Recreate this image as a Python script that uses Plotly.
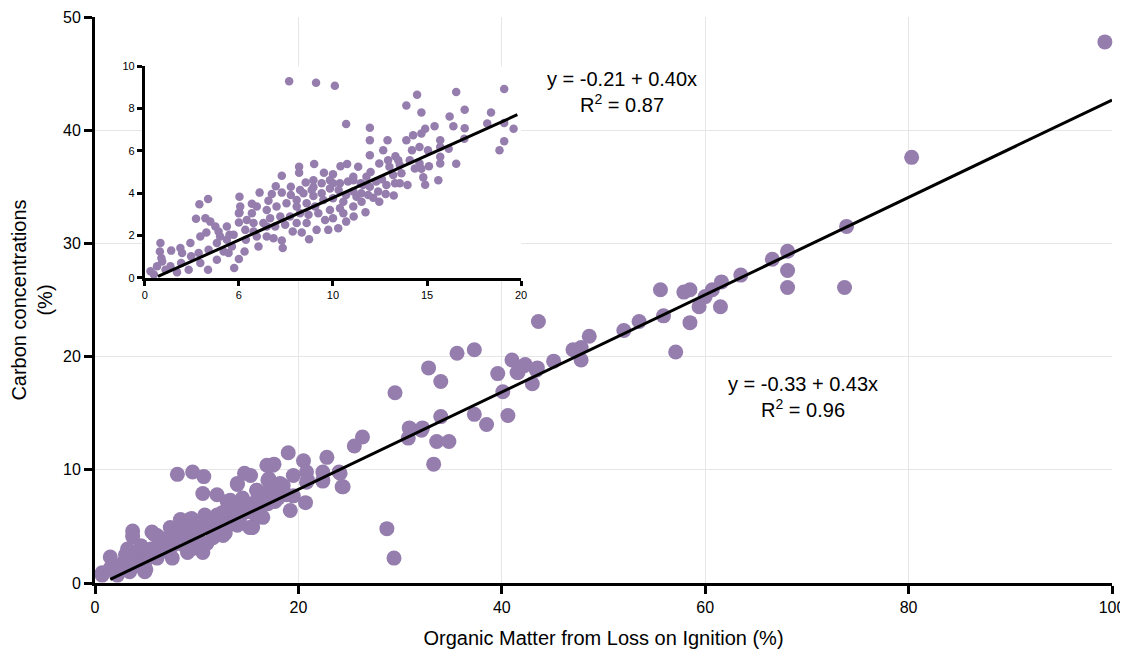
import plotly.graph_objects as go

# ---------------- main scatter data (Organic matter LOI %, Carbon %) ----------------
main_x = [99.3, 80.3, 73.9, 73.7, 68.1, 68.1, 68.1, 66.6, 63.5, 61.6, 61.5, 60.7, 60.0, 59.4,
          58.5, 57.9, 58.5, 57.1, 55.9, 55.6, 53.5, 52.0, 48.6, 47.8, 47.8, 47.0, 45.1, 43.6,
          43.4, 42.2, 41.0, 41.6, 35.6, 37.3, 32.8, 34.0, 29.5, 42.3, 39.6, 41.5, 43.5, 43.0,
          40.1, 37.3, 38.5, 40.6, 34.0, 31.0, 32.1, 30.8, 33.6, 34.8, 33.3, 28.7, 29.4, 26.3,
          25.5, 30.9, 32.2, 19.0, 20.5, 22.8, 17.6, 19.5, 20.8, 22.4, 24.0, 20.8, 22.4, 24.3,
          17.1, 18.5, 19.5, 20.7, 19.2, 17.7, 16.5, 15.3, 15.9, 15.5, 8.1, 9.6, 10.7, 10.6,
          14.0, 14.7, 16.9, 12.0, 13.0, 3.7, 3.7, 5.6, 1.5, 0.7, 2.2, 3.4, 4.9, 2.8, 4.4, 6.1,
          7.6, 9.1, 10.6, 6.7, 7.4, 8.4, 9.3, 10.8, 12.1, 11.6, 12.6, 14.0, 15.4, 15.9, 16.4,
          6.1, 8.4, 9.6, 10.3, 9.5, 14.0, 15.9, 17.0, 17.5, 20.9, 22.4, 24.1, 24.4, 15.2, 13.3,
          2.0, 0.7, 3.0, 4.5, 5.2, 6.0, 6.8, 7.5, 8.2, 8.8, 9.8, 10.2, 11.2, 11.8, 12.5, 13.0,
          13.8, 14.5, 15.0, 16.0, 16.8, 17.5, 18.2, 18.8, 14.2, 12.8, 9.0, 6.3, 4.0, 2.8, 3.2,
          5.8, 1.5, 2.5, 3.5, 4.0, 5.0, 5.5, 6.5, 7.0, 8.0, 9.0, 10.0, 11.0, 12.0, 13.0, 13.5,
          14.0, 15.0, 16.0, 17.0, 17.5, 18.0, 11.0, 12.0, 13.0, 9.5, 8.5, 7.5, 5.0]
main_y = [47.8, 37.6, 31.5, 26.1, 29.3, 27.6, 26.1, 28.6, 27.2, 26.6, 24.4, 25.9, 25.3, 24.4,
          25.9, 25.7, 23.0, 20.4, 23.6, 25.9, 23.1, 22.3, 21.8, 20.8, 19.7, 20.6, 19.6, 23.1,
          18.8, 19.2, 19.7, 18.6, 20.3, 20.6, 19.0, 17.8, 16.8, 19.3, 18.5, 18.6, 19.0, 17.6,
          16.9, 14.9, 14.0, 14.8, 14.7, 13.6, 13.5, 12.8, 12.5, 12.5, 10.5, 4.8, 2.2, 12.9,
          12.1, 13.7, 13.7, 11.5, 10.8, 11.1, 10.5, 9.5, 9.8, 9.8, 9.8, 8.9, 9.0, 8.5,
          9.2, 8.6, 7.7, 7.1, 6.4, 7.2, 5.8, 9.5, 8.2, 4.9, 9.6, 9.8, 9.4, 7.9,
          8.8, 9.7, 10.4, 7.8, 7.2, 4.6, 4.1, 4.5, 2.3, 0.7, 0.7, 1.0, 1.0, 1.8, 2.7, 2.2,
          2.2, 2.7, 2.7, 3.1, 4.9, 5.6, 5.6, 6.0, 5.6, 4.0, 4.2, 5.1, 4.9, 5.8, 7.2,
          4.2, 3.8, 4.2, 4.9, 5.7, 8.7, 8.2, 9.1, 10.4, 9.1, 9.1, 9.7, 8.5, 4.9, 7.3,
          0.9, 0.9, 2.5, 3.3, 2.8, 3.0, 3.9, 4.2, 4.6, 3.3, 5.0, 3.8, 5.4, 4.6, 6.2, 5.2,
          6.6, 7.5, 6.3, 6.8, 8.0, 7.6, 8.8, 7.8, 5.6, 4.4, 5.0, 3.6, 2.0, 1.3, 3.0,
          4.3, 1.3, 1.5, 2.0, 1.5, 2.0, 3.0, 3.5, 2.8, 3.5, 4.5, 4.5, 5.0, 6.0, 6.5, 5.5,
          6.0, 7.0, 7.5, 7.0, 8.0, 7.5, 3.5, 4.8, 5.0, 3.0, 4.5, 3.2, 1.2]

# ---------------- inset scatter data (LOI < 20 %) ----------------
inset_x = [7.67, 9.10, 10.1, 19.1, 16.55, 14.47, 13.9, 14.7, 17.0, 18.4, 16.2, 19.1, 19.6, 18.2,
           17.0, 16.4, 15.4, 14.9, 10.7, 11.96, 16.98, 19.1, 18.85, 16.15, 16.55, 15.6, 14.9,
           13.96, 14.8, 15.1, 15.7, 15.7, 14.26, 14.7, 13.9, 14.2, 14.6, 15.05, 15.7, 15.7,
           12.9, 11.96, 12.67, 11.96, 12.93, 13.32, 12.46, 13.55, 14.08, 14.6, 14.7, 14.35,
           13.64, 13.2, 13.55, 13.23, 12.8, 12.46, 12.14, 12.84, 12.6, 12.0, 11.34, 10.75,
           10.4, 10.0, 9.52, 9.0, 8.2, 8.2, 7.28, 6.96, 7.76, 8.55, 8.96, 9.4, 9.84, 10.37,
           11.08, 11.48, 11.96, 11.87, 11.5, 11.08, 10.7, 10.3, 9.84, 9.4, 8.96, 8.43, 7.76,
           7.28, 6.57, 6.1, 5.03, 5.69, 5.03, 2.9, 3.36, 2.72, 3.22, 3.48, 3.27, 3.92, 4.5,
           5.0, 5.0, 5.69, 5.78, 6.3, 6.66, 7.2, 7.72, 8.25, 8.7, 9.22, 9.84, 10.37, 11.08,
           11.52, 9.58, 10.0, 10.55, 10.7, 11.1, 11.73, 9.75, 10.28, 9.13, 8.34, 8.73, 7.86,
           7.28, 7.33, 6.84, 6.48, 6.04, 5.95, 5.37, 5.3, 5.0, 4.75, 4.45, 4.63, 4.36, 3.83,
           3.39, 3.36, 2.95, 2.86, 2.46, 2.33, 1.98, 1.93, 1.71, 1.4, 1.36, 1.1, 0.92, 0.83,
           0.8, 0.65, 0.48, 0.3, 0.88, 3.83, 4.19, 4.72, 5.34, 5.78, 6.48, 6.93, 7.46, 8.07,
           8.6, 5.42, 4.36, 3.75, 2.95, 2.42, 1.89, 4.0, 5.95, 5.07, 6.48, 7.0, 7.53, 8.07,
           8.6, 9.05, 8.07, 9.49, 10.0, 10.55, 8.25, 8.96, 11.08, 10.8, 11.78, 12.3, 13.3,
           13.0, 13.47, 11.25, 12.4, 11.6, 10.0, 8.87, 6.75]
inset_y = [9.29, 9.22, 9.08, 8.93, 8.78, 8.65, 8.15, 7.82, 7.95, 7.82, 7.63, 7.32, 7.05, 7.29,
           7.07, 7.16, 7.16, 7.05, 7.27, 7.1, 6.58, 6.46, 6.03, 6.10, 5.39, 4.62, 4.40,
           4.39, 4.75, 5.28, 5.41, 5.72, 6.74, 6.82, 6.5, 6.03, 6.19, 6.03, 6.19, 6.5,
           6.5, 6.5, 6.03, 5.8, 5.56, 5.75, 5.41, 5.33, 5.56, 5.41, 5.16, 5.17,
           4.94, 4.86, 4.47, 3.89, 3.97, 3.6, 3.79, 4.39, 4.66, 5.0, 5.25, 5.38,
           5.28, 4.9, 4.97, 5.38, 5.25, 4.97, 4.83, 4.33, 4.31, 4.51, 4.28, 4.47, 4.62, 4.47,
           4.62, 4.47, 4.31, 3.92, 4.0, 4.08, 3.92, 4.15, 4.23, 4.0, 3.87, 4.0, 3.92,
           4.03, 3.65, 4.03, 3.84, 3.5, 3.09, 3.48, 3.73, 2.79, 2.82, 2.66, 2.15, 2.19, 2.04,
           2.62, 3.06, 3.06, 2.59, 2.59, 2.82, 2.9, 2.9, 3.06, 2.98, 3.06, 3.21, 3.29, 3.37,
           3.6, 2.74, 2.82, 3.06, 2.66, 2.9, 3.1, 2.27, 2.35, 2.27, 2.15, 1.83, 2.19,
           1.77, 1.41, 1.88, 1.96, 1.49, 1.96, 1.8, 1.25, 0.89, 0.47, 1.18, 1.49, 1.8, 1.65,
           1.33, 0.39, 0.71, 1.18, 1.02, 0.39, 1.18, 0.71, 0.27, 1.29, 0.55, 0.39, 0.78, 1.65,
           1.25, 0.55, 0.16, 0.31, 0.94, 0.86, 1.25, 2.04, 2.27, 2.19, 2.43, 2.43, 2.51, 2.59,
           2.59, 2.74, 2.43, 2.43, 1.96, 1.65, 1.41, 1.96, 3.37, 3.37, 3.21, 3.37, 3.53, 3.68,
           3.53, 3.37, 3.37, 3.68, 3.76, 3.6, 4.15, 4.62, 4.78, 4.55, 4.78, 4.55, 4.47,
           5.25, 5.56, 3.84, 4.08, 4.39, 4.47, 4.15, 3.97]

# regression fits (as printed on the chart)
main_fit = {"intercept": -0.33, "slope": 0.43, "r2": 0.96, "x_range": [1.5, 100]}
inset_fit = {"intercept": -0.21, "slope": 0.40, "r2": 0.87, "x_range": [0.7, 19.8]}

main_xticks = [0, 20, 40, 60, 80, 100]
main_yticks = [0, 10, 20, 30, 40, 50]
inset_xtick_vals = [0, 5, 10, 15, 20]
inset_xtick_text = ["0", "6", "10", "15", "20"]
inset_yticks = [0, 2, 4, 6, 8, 10]

PURPLE = "#957DAD"
FONT = "Arial, Liberation Sans, sans-serif"

fig = go.Figure()

fig.add_trace(go.Scatter(x=main_x, y=main_y, mode="markers",
                         marker=dict(color=PURPLE, size=15, line=dict(width=0)),
                         cliponaxis=False, showlegend=False, hoverinfo="skip"))
mx = main_fit["x_range"]
fig.add_trace(go.Scatter(x=mx, y=[main_fit["intercept"] + main_fit["slope"] * v for v in mx],
                         mode="lines", line=dict(color="black", width=3),
                         showlegend=False, hoverinfo="skip"))

fig.add_trace(go.Scatter(x=inset_x, y=inset_y, mode="markers", xaxis="x2", yaxis="y2",
                         marker=dict(color=PURPLE, size=8.5, line=dict(width=0)),
                         cliponaxis=False, showlegend=False, hoverinfo="skip"))
ix = inset_fit["x_range"]
fig.add_trace(go.Scatter(x=ix, y=[inset_fit["intercept"] + inset_fit["slope"] * v for v in ix],
                         xaxis="x2", yaxis="y2",
                         mode="lines", line=dict(color="black", width=3),
                         showlegend=False, hoverinfo="skip"))

axis_common = dict(showline=True, linecolor="black", linewidth=3, ticks="outside",
                   tickcolor="black", tickwidth=3, zeroline=False, automargin=False)

# the page body adds an 8 px offset, so the margins compensate for it
fig.update_layout(
    width=1128, height=658,
    margin=dict(l=87, r=24, t=9, b=83),
    plot_bgcolor="white", paper_bgcolor="white",
    font=dict(family=FONT, color="black"),
    xaxis=dict(domain=[0, 1], range=[0, 100], tickvals=main_xticks, ticklen=8,
               showgrid=True, gridcolor="#e6e6e6", gridwidth=1,
               tickfont=dict(size=16), title=dict(text="Organic Matter from Loss on Ignition (%)",
                                                  font=dict(size=20), standoff=16),
               **axis_common),
    yaxis=dict(domain=[0, 1], range=[0, 50], tickvals=main_yticks, ticklen=8,
               showgrid=True, gridcolor="#e6e6e6", gridwidth=1,
               tickfont=dict(size=16), title=dict(text="Carbon concentrations<br>(%)",
                                                  font=dict(size=20), standoff=14),
               **axis_common),
    xaxis2=dict(domain=[0.049, 0.419], range=[0, 20], anchor="y2",
                tickvals=inset_xtick_vals, ticktext=inset_xtick_text, ticklen=5,
                showgrid=False, tickfont=dict(size=11), **axis_common),
    yaxis2=dict(domain=[0.539, 0.913], range=[0, 10], anchor="x2",
                tickvals=inset_yticks, ticklen=5,
                showgrid=False, tickfont=dict(size=11), **axis_common),
)

fig.add_annotation(x=69.6, y=16.4, xref="x", yref="y", showarrow=False,
                   text="y = %.2f + %.2fx<br>R<sup>2</sup> = %.2f" % (main_fit["intercept"], main_fit["slope"], main_fit["r2"]),
                   font=dict(size=20, family=FONT, color="black"), align="center")
fig.add_annotation(x=51.8, y=43.4, xref="x", yref="y", showarrow=False,
                   text="y = %.2f + %.2fx<br>R<sup>2</sup> = %.2f" % (inset_fit["intercept"], inset_fit["slope"], inset_fit["r2"]),
                   font=dict(size=20, family=FONT, color="black"), align="center")

fig.write_html("out.html")
